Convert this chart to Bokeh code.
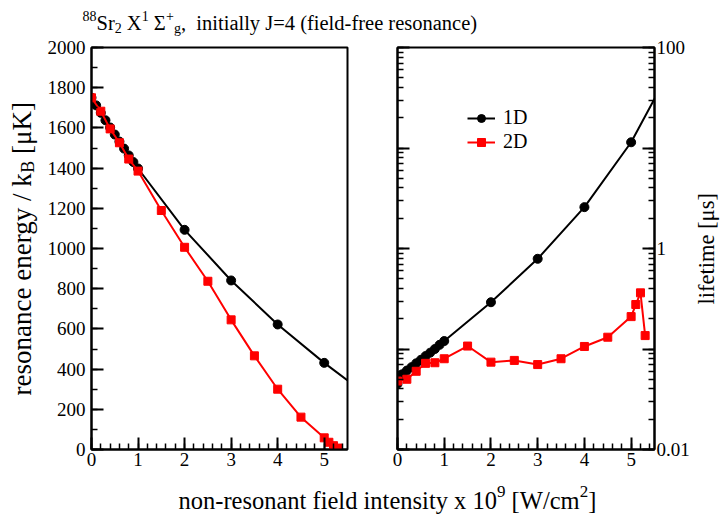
import math
from bokeh.plotting import figure
from bokeh.layouts import column, row
from bokeh.models import (ColumnDataSource, FixedTicker, LogAxis, Label, Legend,
                          LegendItem, Range1d, BasicTickFormatter, NoOverlap)
from bokeh.embed import file_html
from bokeh.resources import INLINE

# ---------------- data ----------------
x_1d = [0.0, 0.1, 0.2, 0.3, 0.4, 0.5, 0.6, 0.7, 0.8, 0.9, 1.0, 2.0, 3.0, 4.0, 5.0, 6.0]
energy_1d = [1750, 1712, 1675, 1638, 1602, 1567, 1532, 1497, 1463, 1430, 1398,
             1093, 841, 622, 431, 258]
life_1d = [0.045, 0.056, 0.061, 0.066, 0.072, 0.078, 0.085, 0.092, 0.100, 0.110, 0.120,
           0.292, 0.79, 2.58, 11.4, 84.0]

x_2d = [0.0, 0.2, 0.4, 0.6, 0.8, 1.0, 1.5, 2.0, 2.5, 3.0, 3.5, 4.0, 4.5, 5.0, 5.1, 5.2, 5.3]
energy_2d = [1750, 1683, 1595, 1526, 1445, 1385, 1189, 1006, 837, 645, 466, 300, 161,
             58, 36, 19, 7]
life_2d = [0.048, 0.050, 0.060, 0.072, 0.073, 0.080, 0.107, 0.074, 0.077, 0.070, 0.080,
           0.106, 0.131, 0.21, 0.277, 0.362, 0.136]

x_ticks = [0, 1, 2, 3, 4, 5]
x_tick_labels = ["0", "1", "2", "3", "4", "5"]
e_ticks = [0, 200, 400, 600, 800, 1000, 1200, 1400, 1600, 1800, 2000]
e_tick_labels = ["0", "200", "400", "600", "800", "1000", "1200", "1400", "1600", "1800", "2000"]
t_ticks = [0.01, 0.1, 1, 10, 100]
t_tick_labels = ["0.01", "0.1", "1", "10", "100"]   # only every other one is shown

series_labels = ["1D", "2D"]
series_colors = ["black", "#ff0000"]

# ---------------- styling / layout constants ----------------
FONT = "Liberation Serif"
TICK_FS = "19px"
TOP_H, ROW_H, BOT_H = 36, 438, 43
LS_W, P1_W, P2_W, RS_W = 44, 306, 342, 28
FR_TOP_PAGE, FR_BOT_PAGE = 47, 449
FR_MID_PAGE = (FR_TOP_PAGE + FR_BOT_PAGE) / 2.0
DESC = 0.216      # baseline correction (fraction of font size)
ROT_SHIFT = 25    # along-text correction for rotated labels (px)
ROT_SIDE = 2.5    # across-text correction for rotated labels (px)

# Times / Liberation Serif advance widths (per 1000 em)
W = {' ': 250, '(': 333, ')': 333, '+': 564, ',': 250, '-': 333, '.': 250, '/': 278,
     '=': 564, '[': 333, ']': 333, 'Σ': 600, 'μ': 560,
     'A': 722, 'B': 667, 'C': 667, 'D': 722, 'E': 611, 'F': 556, 'G': 722, 'H': 722,
     'I': 333, 'J': 389, 'K': 722, 'L': 611, 'M': 889, 'N': 722, 'O': 722, 'P': 556,
     'R': 667, 'S': 556, 'T': 611, 'U': 722, 'V': 722, 'W': 944, 'X': 722, 'Y': 722,
     'a': 444, 'b': 500, 'c': 444, 'd': 500, 'e': 444, 'f': 333, 'g': 500, 'h': 500,
     'i': 278, 'j': 278, 'k': 500, 'l': 278, 'm': 778, 'n': 500, 'o': 500, 'p': 500,
     'q': 500, 'r': 333, 's': 389, 't': 278, 'u': 500, 'v': 500, 'w': 722, 'x': 500,
     'y': 500, 'z': 444}


def tw(s, size):
    return sum(W.get(c, 500) for c in s) * size / 1000.0


def total_len(pieces):
    return sum(tw(t, s) for t, s, _ in pieces)


def place(fig, pieces, x0, y0, angle=0.0):
    """Lay out text pieces (text, size, baseline shift) along a direction."""
    ca, sa = math.cos(angle), math.sin(angle)
    adv = 0.0
    for text, size, dy in pieces:
        if text.strip():
            d = dy + DESC * size
            fig.add_layout(Label(x=x0 + adv * ca - d * sa, y=y0 + adv * sa + d * ca,
                                 x_units="screen", y_units="screen", text=text, angle=angle,
                                 text_font=FONT, text_font_size=f"{size}px",
                                 text_color="black", text_align="left",
                                 text_baseline="alphabetic"))
        adv += tw(text, size)


def strip(w, h):
    f = figure(width=w, height=h, x_range=Range1d(0, w), y_range=Range1d(0, h),
               x_axis_type=None, y_axis_type=None, min_border=0, output_backend="svg",
               toolbar_location=None)
    f.outline_line_color = None
    f.grid.visible = False
    f.background_fill_color = "white"
    f.border_fill_color = "white"
    return f


def style_axis(ax, fs=TICK_FS, standoff=5):
    ax.axis_line_color = "black"
    ax.axis_line_width = 2
    ax.major_tick_in = 12
    ax.major_tick_out = 0
    ax.minor_tick_in = 6
    ax.minor_tick_out = 0
    ax.major_tick_line_width = 2
    ax.minor_tick_line_width = 1.5
    ax.major_tick_line_color = "black"
    ax.minor_tick_line_color = "black"
    ax.major_label_text_font = FONT
    ax.major_label_text_font_size = fs
    ax.major_label_text_color = "black"
    ax.major_label_standoff = standoff


def base_fig(**kw):
    p = figure(output_backend="svg", toolbar_location=None, **kw)
    p.outline_line_color = "black"
    p.outline_line_width = 2
    p.xgrid.grid_line_color = None
    p.ygrid.grid_line_color = None
    p.background_fill_color = "white"
    p.border_fill_color = "white"
    return p


x_minor = [i * 0.2 for i in range(0, 28)]
e_minor = list(range(0, 2001, 100))
t_minor = [k * 10.0 ** e for e in range(-2, 2) for k in range(1, 10)] + [100.0]

# ---------------- left panel: resonance energy ----------------
p1 = base_fig(width=P1_W, height=ROW_H, x_range=Range1d(0, 5.5), y_range=Range1d(0, 2000),
              min_border_left=45, min_border_right=3, min_border_top=11, min_border_bottom=25)
style_axis(p1.xaxis[0], standoff=3)
style_axis(p1.yaxis[0], standoff=6)
p1.xaxis[0].ticker = FixedTicker(ticks=x_ticks, minor_ticks=x_minor)
p1.xaxis[0].major_label_overrides = dict(zip(x_ticks, x_tick_labels))
p1.yaxis[0].ticker = FixedTicker(ticks=e_ticks, minor_ticks=e_minor)
p1.yaxis[0].major_label_overrides = dict(zip(e_ticks, e_tick_labels))

s1e = ColumnDataSource(dict(x=x_1d, y=energy_1d))
s2e = ColumnDataSource(dict(x=x_2d, y=energy_2d))
p1.line("x", "y", source=s1e, line_color=series_colors[0], line_width=2)
p1.scatter("x", "y", source=s1e, marker="circle", size=9, fill_color=series_colors[0],
           line_color=series_colors[0])
p1.line("x", "y", source=s2e, line_color=series_colors[1], line_width=2)
p1.scatter("x", "y", source=s2e, marker="square", size=8, fill_color=series_colors[1],
           line_color=series_colors[1])

# ---------------- right panel: lifetime (log) ----------------
p2 = base_fig(width=P2_W, height=ROW_H, x_range=Range1d(0, 5.5), y_range=Range1d(0.01, 100),
              y_axis_type="log", y_axis_location="right",
              min_border_left=47, min_border_right=36, min_border_top=11, min_border_bottom=25)
style_axis(p2.xaxis[0], standoff=3)
style_axis(p2.yaxis[0], standoff=2)
p2.xaxis[0].ticker = FixedTicker(ticks=x_ticks, minor_ticks=x_minor)
p2.xaxis[0].major_label_overrides = dict(zip(x_ticks, x_tick_labels))
p2.yaxis[0].ticker = FixedTicker(ticks=t_ticks, minor_ticks=t_minor)
p2.yaxis[0].formatter = BasicTickFormatter()
p2.yaxis[0].major_label_overrides = dict(zip(t_ticks, t_tick_labels))
p2.yaxis[0].major_label_policy = NoOverlap(min_distance=150)

left_log = LogAxis(ticker=FixedTicker(ticks=t_ticks, minor_ticks=t_minor),
                   formatter=BasicTickFormatter())
style_axis(left_log, standoff=0)
left_log.major_label_text_color = None
left_log.major_label_text_alpha = 0
p2.add_layout(left_log, "left")

s1t = ColumnDataSource(dict(x=x_1d, y=life_1d))
s2t = ColumnDataSource(dict(x=x_2d, y=life_2d))
l1 = p2.line("x", "y", source=s1t, line_color=series_colors[0], line_width=2)
m1 = p2.scatter("x", "y", source=s1t, marker="circle", size=9, fill_color=series_colors[0],
                line_color=series_colors[0])
l2 = p2.line("x", "y", source=s2t, line_color=series_colors[1], line_width=2)
m2 = p2.scatter("x", "y", source=s2t, marker="square", size=8, fill_color=series_colors[1],
                line_color=series_colors[1])

legend = Legend(items=[LegendItem(label=series_labels[0], renderers=[l1, m1]),
                       LegendItem(label=series_labels[1], renderers=[l2, m2])],
                location=(70, 296), orientation="vertical",
                label_text_font=FONT, label_text_font_size="20px", label_text_color="black",
                glyph_width=28, glyph_height=20, label_height=20, spacing=1,
                padding=0, margin=0, label_standoff=8,
                border_line_color=None, background_fill_alpha=0)
p2.add_layout(legend)

# ---------------- side strips holding the rotated axis titles ----------------
row_bottom_page = TOP_H + ROW_H

lstrip = strip(LS_W, ROW_H)
ylab = [("resonance energy / k", 27, 0), ("B", 18, -4), (" ", 27, 0), ("[μK]", 27, 0)]
L = total_len(ylab)
place(lstrip, ylab, x0=30 - ROT_SIDE,
      y0=row_bottom_page - (FR_MID_PAGE + L / 2) - ROT_SHIFT, angle=math.pi / 2)

rstrip = strip(RS_W, ROW_H)
rlab = [("lifetime [μs]", 22.5, 0)]
Lr = total_len(rlab)
place(rstrip, rlab, x0=RS_W / 2 + 0.34 * 22.5 - ROT_SIDE,
      y0=row_bottom_page - (FR_MID_PAGE + Lr / 2) - ROT_SHIFT, angle=math.pi / 2)

# ---------------- title strip ----------------
top = strip(720, TOP_H)
title = [("88", 14, 8), ("Sr", 20.5, 0), ("2", 14, -4), (" ", 20.5, 0), ("X", 20.5, 0),
         ("1", 14, 8), (" ", 20.5, 0), ("Σ", 20.5, 0), ("+", 14, 8), ("g", 14, -4),
         (",", 20.5, 0), ("  ", 20.5, 0), ("initially J=4 (field-free resonance)", 20.5, 0)]
place(top, title, x0=82, y0=TOP_H - 27)

# ---------------- x label strip ----------------
bot = strip(720, BOT_H)
xlab = [("non-resonant field intensity x 10", 24.5, 0), ("9", 17, 10), (" ", 24.5, 0),
        ("[W/cm", 24.5, 0), ("2", 17, 10), ("]", 24.5, 0)]
place(bot, xlab, x0=178, y0=517 - 505)

layout = column(top, row(lstrip, p1, p2, rstrip), bot)
open("out.html", "w").write(file_html(layout, INLINE))
